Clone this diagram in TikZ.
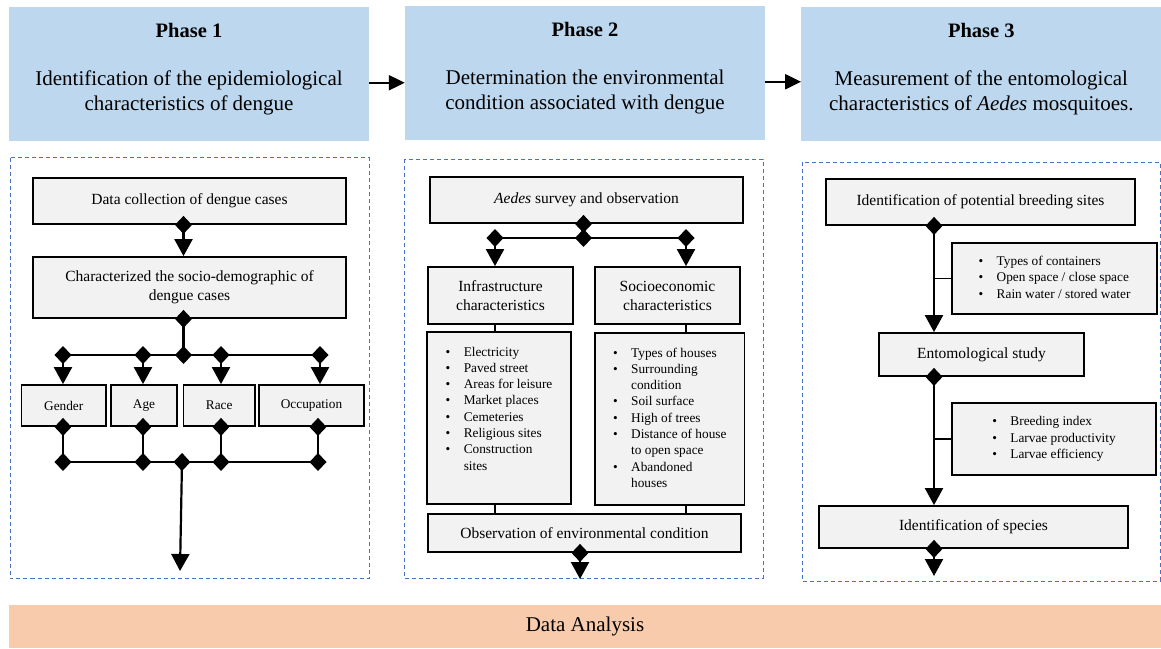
\documentclass[tikz,border=0pt]{standalone}
\usepackage{fontspec}
\setmainfont{Liberation Serif}
\usepackage{tikz}
\usetikzlibrary{arrows.meta, positioning}
\definecolor{phaseblue}{HTML}{BDD7EE}
\definecolor{boxgray}{HTML}{F2F2F2}
\definecolor{panelblue}{HTML}{4472C4}
\definecolor{peach}{HTML}{F7CBAC}

\begin{document}
\begin{tikzpicture}[x=1pt, y=-1pt,
		phase/.style={fill=phaseblue, minimum width=360pt, minimum height=133.5pt, inner sep=0pt},
		ptitle/.style={inner sep=0pt, font=\fontsize{20.5}{24}\selectfont\bfseries},
		pbody/.style={inner sep=0pt, align=center, font=\fontsize{21}{25}\selectfont},
		box/.style={draw, line width=1.8pt, fill=boxgray, inner sep=0pt, align=center, font=\fontsize{15.5}{19}\selectfont},
		small/.style={box, font=\fontsize{13.3}{16.3}\selectfont},
		panel/.style={draw=panelblue, line width=1pt, dash pattern=on 4pt off 3pt},
		flow/.style={line width=2.2pt, -{Triangle[length=16pt,width=15pt]}},
		feed/.style={line width=2.2pt, {Diamond[length=18pt,width=17pt]}-{Triangle[length=17pt,width=18pt]}, shorten <=-9pt},
		tie/.style={line width=2.2pt, {Diamond[length=18pt,width=17pt]}-{Diamond[length=18pt,width=17pt]}, shorten <=-9pt, shorten >=-9pt},
		wire/.style={line width=1.8pt}]
	\useasboundingbox (0,0) rectangle (1161,648);
	
	\node[phase] (p1) at (189,73.75) {};
	\node[phase] (p2) at (585,72.75) {};
	\node[phase] (p3) at (981.3,73.75) {};
	\node[ptitle, below=16pt of p1.north] (h1) {Phase 1};
	\node[ptitle, below=16pt of p2.north] (h2) {Phase 2};
	\node[ptitle, below=16pt of p3.north] (h3) {Phase 3};
	\node[pbody, below=33pt of h1] (d1) {Identification of the epidemiological\\characteristics of dengue};
	\node[pbody, below=33pt of h2] (d2) {Determination the environmental\\condition associated with dengue};
	\node[pbody, below=33pt of h3] (d3) {Measurement of the entomological\\characteristics of \textit{Aedes} mosquitoes.};
	\draw[flow] ([yshift=-9pt]p1.east) -- ([yshift=-9pt]p1.east -| p2.west);
	\draw[flow] ([yshift=-9pt]p2.east) -- ([yshift=-9pt]p2.east -| p3.west);
	
	\draw[panel] (10,157.5) rectangle (369,578);
	\draw[panel] (404,159) rectangle (763,578);
	\draw[panel] (802,162) rectangle (1160,581);
	
	\node[box, minimum width=313pt, minimum height=46pt] (dc) at (189.5,201) {Data collection of dengue cases};
	\node[box, minimum width=313pt, minimum height=61pt] (ch) at (189.5,287.5) {Characterized the socio-demographic of\\dengue cases};
	\node[small, minimum width=84.5pt, minimum height=41pt] (gen) at (63.75,405.5) {Gender};
	\node[small, minimum width=66pt, minimum height=41pt] (age) at (144,405.5) {Age};
	\node[small, minimum width=71.5pt, minimum height=41pt] (race) at (219.25,405.5) {Race};
	\node[small, minimum width=105pt, minimum height=41pt] (occ) at (311.5,405.5) {Occupation};
	\coordinate (tm) at (183.5,355);
	\coordinate (t1) at (63,355);
	\coordinate (t2) at (143,355);
	\coordinate (t3) at (221,355);
	\coordinate (t4) at (320,355);
	\coordinate (bm) at (182,462);
	\coordinate (b1) at (63,462);
	\coordinate (b2) at (143,462);
	\coordinate (b3) at (221,462);
	\coordinate (b4) at (318,462);
	\coordinate (end1) at (180,571);
	
	\draw[feed] (dc.south -| tm) -- (ch.north -| tm);
	\draw[tie] (ch.south -| tm) -- (tm);
	\draw[wire, line width=2.2pt] (t1) -- (t4);
	\draw[wire, line width=2.2pt] (b1) -- (b4);
	\foreach \t/\b/\n in {t1/b1/gen, t2/b2/age, t3/b3/race, t4/b4/occ} {
		\draw[feed] (\t) -- (\t |- \n.north);
		\draw[tie] (\n.south -| \b) -- (\b);
	}
	\draw[feed] (bm) -- (end1);
	
	\node[box, minimum width=313pt, minimum height=46pt] (ae) at (586.5,200) {\textit{Aedes} survey and observation};
	\node[box, minimum width=145pt, minimum height=57pt] (infra) at (500.5,295.5) {Infrastructure\\characteristics};
	\node[box, minimum width=145pt, minimum height=57pt] (socio) at (667.5,295.5) {Socioeconomic\\characteristics};
	\node[small, minimum width=144pt, minimum height=172pt] (ilist) at (499,418) {%
		\begin{tabular}{@{}l@{\hspace{13.5pt}}l@{}}
			\textbullet & Electricity\\
			\textbullet & Paved street\\
			\textbullet & Areas for leisure\\
			\textbullet & Market places\\
			\textbullet & Cemeteries\\
			\textbullet & Religious sites\\
			\textbullet & Construction\\
			 & sites\\
			 & \\
		\end{tabular}};
	\node[small, minimum width=149.5pt, minimum height=172pt] (slist) at (669.75,419) {%
		\begin{tabular}{@{}l@{\hspace{13.5pt}}l@{}}
			\textbullet & Types of houses\\
			\textbullet & Surrounding\\
			 & condition\\
			\textbullet & Soil surface\\
			\textbullet & High of trees\\
			\textbullet & Distance of house\\
			 & to open space\\
			\textbullet & Abandoned\\
			 & houses\\
		\end{tabular}};
	\node[box, minimum width=313pt, minimum height=38pt] (obs) at (584.5,533) {Observation of environmental condition};
	\coordinate (s2) at (583.5,238);
	\coordinate (l2) at (495,238);
	\coordinate (r2) at (686,238);
	\coordinate (end2) at (580,579);
	
	\draw[tie] (ae.south -| s2) -- (s2);
	\draw[wire, line width=2.2pt] (l2) -- (r2);
	\draw[feed] (l2) -- (l2 |- infra.north);
	\draw[feed] (r2) -- (r2 |- socio.north);
	\draw[wire] (infra.south -| l2) -- (ilist.north -| l2);
	\draw[wire] (socio.south -| r2) -- (slist.north -| r2);
	\draw[wire] (ilist.south -| l2) -- (obs.north -| l2);
	\draw[wire] (slist.south -| r2) -- (obs.north -| r2);
	\draw[feed] (obs.south -| end2) -- (end2);
	
	\node[box, minimum width=309pt, minimum height=46pt] (ibs) at (980.5,202) {Identification of potential breeding sites};
	\node[small, minimum width=205pt, minimum height=71pt] (lst1) at (1054.5,278.5) {%
		\begin{tabular}{@{}l@{\hspace{13.5pt}}l@{}}
			\textbullet & Types of containers\\
			\textbullet & Open space / close space\\
			\textbullet & Rain water / stored water\\
		\end{tabular}};
	\node[box, minimum width=205pt, minimum height=43pt] (ent) at (981.5,354.5) {Entomological study};
	\node[small, minimum width=204pt, minimum height=72pt] (lst2) at (1054,439) {%
		\begin{tabular}{@{}l@{\hspace{13.5pt}}l@{}}
			\textbullet & Breeding index\\
			\textbullet & Larvae productivity\\
			\textbullet & Larvae efficiency\\
		\end{tabular}};
	\node[box, minimum width=309pt, minimum height=42pt] (spc) at (973.5,527) {Identification of species};
	\coordinate (spine) at (934,0);
	\coordinate (end3) at (934,576);
	
	\draw[feed] (ibs.south -| spine) -- (ent.north -| spine);
	\draw[wire] (lst1.west -| spine) -- (lst1.west);
	\draw[feed] (ent.south -| spine) -- (spc.north -| spine);
	\draw[wire] (lst2.west -| spine) -- (lst2.west);
	\draw[feed] (spc.south -| spine) -- (end3);
	
	\node[fill=peach, minimum width=1152pt, minimum height=43pt, inner sep=0pt, font=\fontsize{21}{25}\selectfont] (da) at (585,626.5) {Data Analysis};
\end{tikzpicture}
\end{document}
